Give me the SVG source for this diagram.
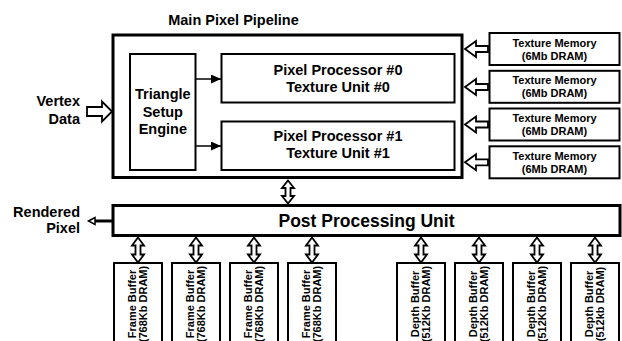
<svg xmlns="http://www.w3.org/2000/svg" width="622" height="341" viewBox="0 0 622 341">
<style>
text{font-family:"Liberation Sans",Arial,Helvetica,sans-serif;font-weight:bold;fill:#000}
.big{font-size:14.5px}
.mid{font-size:11px}
.c{text-anchor:middle}
.r{text-anchor:end}
.thick{fill:#fff;stroke:#000;stroke-width:3}
.box{fill:#fff;stroke:#000;stroke-width:2}
.hollow{fill:#fff;stroke:#000;stroke-width:1.8;stroke-linejoin:miter}
.line{stroke:#000;stroke-width:1.5;fill:none}
</style>
<defs>
<marker id="ah" markerWidth="10" markerHeight="9" refX="10" refY="4.5" orient="auto" markerUnits="userSpaceOnUse">
<path d="M0,0 L10,4.5 L0,9 Z" fill="#000"/>
</marker>
<path id="dbl" d="M0,0 L6,8 L2.5,8 L2.5,17 L6,17 L0,25 L-6,17 L-2.5,17 L-2.5,8 L-6,8 Z"/>
<path id="dbl2" d="M0,0 L6,7.5 L2.5,7.5 L2.5,15.5 L6,15.5 L0,23 L-6,15.5 L-2.5,15.5 L-2.5,7.5 L-6,7.5 Z"/>
<path id="larr" d="M0,0 L11,-8 L11,-3 L23,-3 L23,3 L11,3 L11,8 Z"/>
</defs>

<g id="main-pipeline">
<text class="big c" x="233.5" y="25">Main Pixel Pipeline</text>
<rect class="thick" x="113" y="35" width="349" height="142.5"/>
</g>

<g id="triangle-setup">
<rect class="box" x="130" y="54" width="65.5" height="116"/>
<text class="big c" x="162.8" y="99">Triangle</text>
<text class="big c" x="162.8" y="117">Setup</text>
<text class="big c" x="162.8" y="134">Engine</text>
</g>

<g id="pixel-processor-0">
<rect class="box" x="221.5" y="54" width="233" height="48.5"/>
<text class="big c" x="338" y="75">Pixel Processor #0</text>
<text class="big c" x="338" y="92">Texture Unit #0</text>
</g>

<g id="pixel-processor-1">
<rect class="box" x="221.5" y="121.5" width="233" height="48.5"/>
<text class="big c" x="338" y="140.5">Pixel Processor #1</text>
<text class="big c" x="338" y="157.5">Texture Unit #1</text>
</g>

<g id="texture-memory-0">
<rect class="box" x="489.5" y="33" width="130" height="32"/>
<text class="mid c" x="554.5" y="46.5">Texture Memory</text>
<text class="mid c" x="554.5" y="59.5">(6Mb DRAM)</text>
</g>
<g id="texture-memory-1">
<rect class="box" x="489.5" y="70.8" width="130" height="32"/>
<text class="mid c" x="554.5" y="84.3">Texture Memory</text>
<text class="mid c" x="554.5" y="97.3">(6Mb DRAM)</text>
</g>
<g id="texture-memory-2">
<rect class="box" x="489.5" y="108.5" width="130" height="32"/>
<text class="mid c" x="554.5" y="122">Texture Memory</text>
<text class="mid c" x="554.5" y="135">(6Mb DRAM)</text>
</g>
<g id="texture-memory-3">
<rect class="box" x="489.5" y="146.3" width="130" height="32"/>
<text class="mid c" x="554.5" y="159.8">Texture Memory</text>
<text class="mid c" x="554.5" y="172.8">(6Mb DRAM)</text>
</g>

<g id="vertex-data">
<text class="big r" x="80" y="106">Vertex</text>
<text class="big r" x="80" y="124">Data</text>
</g>

<g id="post-processing">
<rect class="thick" x="113" y="205.5" width="507" height="30"/>
<text class="c" style="font-size:17.5px" x="366.5" y="227">Post Processing Unit</text>
</g>

<g id="rendered-pixel">
<text class="big r" x="80" y="216.5">Rendered</text>
<text class="big r" x="80" y="233">Pixel</text>
</g>

<g id="frame-buffer-0">
<rect class="box" x="114" y="263" width="48" height="100"/>
<text class="mid c" transform="translate(136,304) rotate(-90)">Frame Buffer</text>
<text class="mid c" transform="translate(147,304) rotate(-90)">(768Kb DRAM)</text>
</g>
<g id="frame-buffer-1">
<rect class="box" x="172" y="263" width="48" height="100"/>
<text class="mid c" transform="translate(194,304) rotate(-90)">Frame Buffer</text>
<text class="mid c" transform="translate(205,304) rotate(-90)">(768Kb DRAM)</text>
</g>
<g id="frame-buffer-2">
<rect class="box" x="230" y="263" width="48" height="100"/>
<text class="mid c" transform="translate(252,304) rotate(-90)">Frame Buffer</text>
<text class="mid c" transform="translate(263,304) rotate(-90)">(768Kb DRAM)</text>
</g>
<g id="frame-buffer-3">
<rect class="box" x="288" y="263" width="48" height="100"/>
<text class="mid c" transform="translate(310,304) rotate(-90)">Frame Buffer</text>
<text class="mid c" transform="translate(321,304) rotate(-90)">(768Kb DRAM)</text>
</g>

<g id="depth-buffer-0">
<rect class="box" x="397" y="263" width="48" height="100"/>
<text class="mid c" transform="translate(419,304) rotate(-90)">Depth Buffer</text>
<text class="mid c" transform="translate(430,304) rotate(-90)">(512Kb DRAM)</text>
</g>
<g id="depth-buffer-1">
<rect class="box" x="455" y="263" width="48" height="100"/>
<text class="mid c" transform="translate(477,304) rotate(-90)">Depth Buffer</text>
<text class="mid c" transform="translate(488,304) rotate(-90)">(512Kb DRAM)</text>
</g>
<g id="depth-buffer-2">
<rect class="box" x="513" y="263" width="48" height="100"/>
<text class="mid c" transform="translate(535,304) rotate(-90)">Depth Buffer</text>
<text class="mid c" transform="translate(546,304) rotate(-90)">(512Kb DRAM)</text>
</g>
<g id="depth-buffer-3">
<rect class="box" x="571" y="263" width="48" height="100"/>
<text class="mid c" transform="translate(593,304) rotate(-90)">Depth Buffer</text>
<text class="mid c" transform="translate(604,304) rotate(-90)">(512kb DRAM)</text>
</g>

<g id="connectors">
<line class="line" x1="196" y1="79" x2="221" y2="79" marker-end="url(#ah)"/>
<line class="line" x1="196" y1="146" x2="221" y2="146" marker-end="url(#ah)"/>
<path class="hollow" d="M87,107 L102,107 L102,101.5 L112,111.5 L102,121.5 L102,116 L87,116 Z"/>
<use href="#larr" class="hollow" x="465" y="49"/>
<use href="#larr" class="hollow" x="465" y="87"/>
<use href="#larr" class="hollow" x="465" y="124.5"/>
<use href="#larr" class="hollow" x="465" y="162.3"/>
<use href="#dbl2" class="hollow" x="288" y="180.5"/>
<line x1="112" y1="221" x2="94" y2="221" stroke="#000" stroke-width="3"/>
<path class="hollow" style="stroke-width:1.5" d="M88.5,221 L95,217.5 L95,224.5 Z"/>
<use href="#dbl" class="hollow" x="138" y="237.5"/>
<use href="#dbl" class="hollow" x="196" y="237.5"/>
<use href="#dbl" class="hollow" x="254" y="237.5"/>
<use href="#dbl" class="hollow" x="312" y="237.5"/>
<use href="#dbl" class="hollow" x="421" y="237.5"/>
<use href="#dbl" class="hollow" x="479" y="237.5"/>
<use href="#dbl" class="hollow" x="537" y="237.5"/>
<use href="#dbl" class="hollow" x="595" y="237.5"/>
</g>
</svg>
